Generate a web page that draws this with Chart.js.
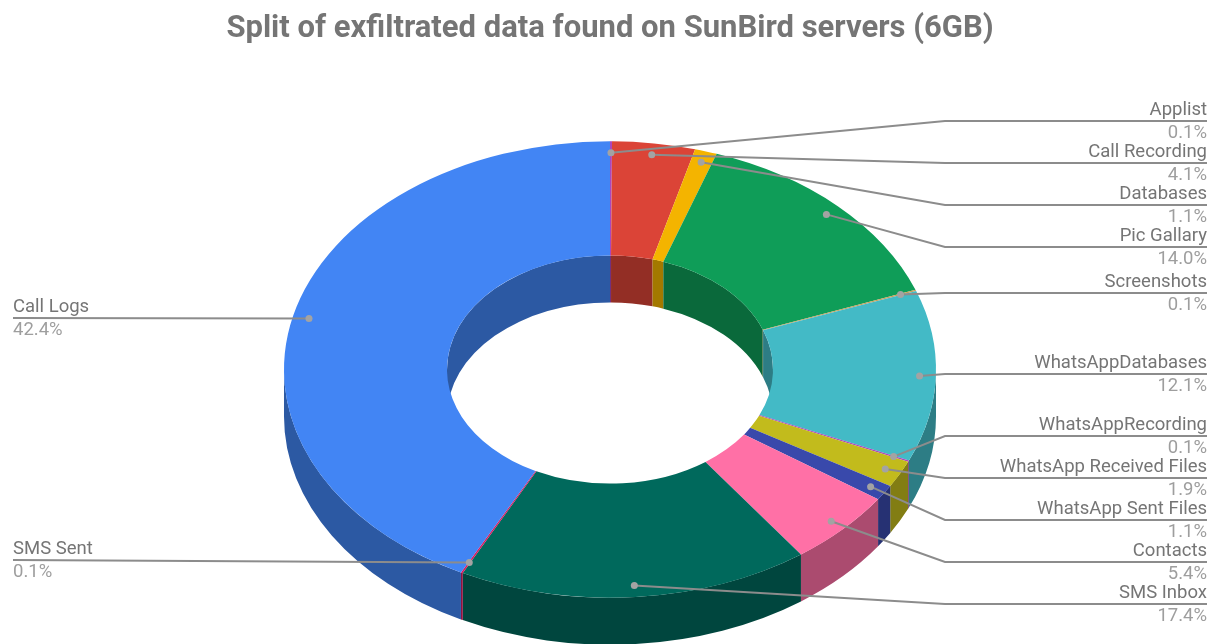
<!DOCTYPE html>
<html>
<head>
<meta charset="utf-8">
<title>SunBird exfiltrated data</title>
<script src="https://cdn.jsdelivr.net/npm/chart.js@4"></script>
<style>
    html, body { margin: 0; padding: 0; background: #fff; overflow: hidden; }
    canvas { display: block; filter: blur(0.5px); }
</style>
</head>
<body>
<canvas id="splitChart" width="1218" height="644"></canvas>
<script>
const categories = ['Applist', 'Call Recording', 'Databases', 'Pic Gallary', 'Screenshots', 'WhatsAppDatabases',
    'WhatsAppRecording', 'WhatsApp Received Files', 'WhatsApp Sent Files', 'Contacts', 'SMS Inbox', 'SMS Sent', 'Call Logs'];
const shares = [0.1, 4.1, 1.1, 14.0, 0.1, 12.1, 0.1, 1.9, 1.1, 5.4, 17.4, 0.1, 42.4];
const sliceColors = ['#ab47bc', '#db4437', '#f4b400', '#0f9d58', '#c9a05a', '#43bac6',
    '#ab47bc', '#c2bb1c', '#3949ab', '#ff70a6', '#00695c', '#d81b60', '#4285f4'];

// row of each label, right hand side unless the slice sits on the left
const leaderY = [121, 163, 205, 247, 293, 374, 436, 478, 520, 562, 604, 560, 318];

const squash = 0.7;      // tilt of the ring
const depth = 47;        // height of the side walls
const elbowX = 945;
const rightEdge = 1207;
const leftEdge = 13;

function shade(hex, k) {
    const n = parseInt(hex.slice(1), 16);
    const c = [n >> 16, (n >> 8) & 255, n & 255].map(v => Math.round(v * k));
    return `rgb(${c[0]}, ${c[1]}, ${c[2]})`;
}

// one wall piece between angles a0 and a1, for a ring edge of radius r
function wall(ctx, arc, r, a0, a1, color) {
    if (a1 <= a0) return;
    const ry = r * squash;
    ctx.beginPath();
    ctx.ellipse(arc.x, arc.y, r, ry, 0, a0, a1);
    ctx.ellipse(arc.x, arc.y + depth, r, ry, 0, a1, a0, true);
    ctx.closePath();
    ctx.fillStyle = color;
    ctx.fill();
}

const ring3d = {
    id: 'ring3d',
    beforeDatasetsDraw(chart) {
        const ctx = chart.ctx;
        const arcs = chart.getDatasetMeta(0).data;
        arcs.forEach((arc, i) => {
            const color = shade(sliceColors[i], 0.67);
            // outer wall shows on the near half, inner wall on the far half
            const s = arc.startAngle;
            const e = arc.endAngle;
            wall(ctx, arc, arc.outerRadius, Math.max(s, 0), Math.min(e, Math.PI), color);
            wall(ctx, arc, arc.innerRadius, Math.max(s, -Math.PI / 2), Math.min(e, 0), color);
            wall(ctx, arc, arc.innerRadius, Math.max(s, Math.PI), Math.min(e, Math.PI * 1.5), color);
        });
        const c = arcs[0];
        ctx.save();
        ctx.translate(c.x, c.y);
        ctx.scale(1, squash);
        ctx.translate(-c.x, -c.y);
    },
    afterDatasetsDraw(chart) {
        const ctx = chart.ctx;
        ctx.restore();
        chart.getDatasetMeta(0).data.forEach((arc, i) => {
            const mid = (arc.startAngle + arc.endAngle) / 2;
            const ax = arc.x + arc.outerRadius * 0.95 * Math.cos(mid);
            const ay = arc.y + arc.outerRadius * 0.95 * Math.sin(mid) * squash;
            const y = leaderY[i];
            const isLeft = i >= 11;
            const edge = isLeft ? leftEdge : rightEdge;

            ctx.strokeStyle = '#8c8c8c';
            ctx.lineWidth = 2;
            ctx.beginPath();
            ctx.moveTo(edge, y);
            if (!isLeft) ctx.lineTo(elbowX, y);
            ctx.lineTo(ax, ay);
            ctx.stroke();

            ctx.fillStyle = '#a3a3a3';
            ctx.beginPath();
            ctx.arc(ax, ay, 3.5, 0, Math.PI * 2);
            ctx.fill();

            ctx.font = '18.5px Roboto';
            ctx.textAlign = isLeft ? 'left' : 'right';
            ctx.fillStyle = '#757575';
            ctx.fillText(categories[i], edge, y - 6);
            ctx.fillStyle = '#9e9e9e';
            ctx.fillText(shares[i].toFixed(1) + '%', edge, y + 17);
        });
    }
};

new Chart(document.getElementById('splitChart'), {
    type: 'doughnut',
    data: {
        labels: categories,
        datasets: [{
            data: shares,
            backgroundColor: sliceColors,
            borderWidth: 0
        }]
    },
    options: {
        responsive: false,
        animation: false,
        radius: 326,
        cutout: '50%',
        layout: { padding: { left: 2 } },
        plugins: {
            legend: { display: false },
            tooltip: { enabled: false },
            title: {
                display: true,
                text: 'Split of exfiltrated data found on SunBird servers (6GB)',
                color: '#757575',
                font: { family: 'Roboto', size: 31, weight: 'bold', lineHeight: 1 },
                padding: { top: 14, bottom: 50 }
            }
        }
    },
    plugins: [ring3d]
});
</script>
</body>
</html>
